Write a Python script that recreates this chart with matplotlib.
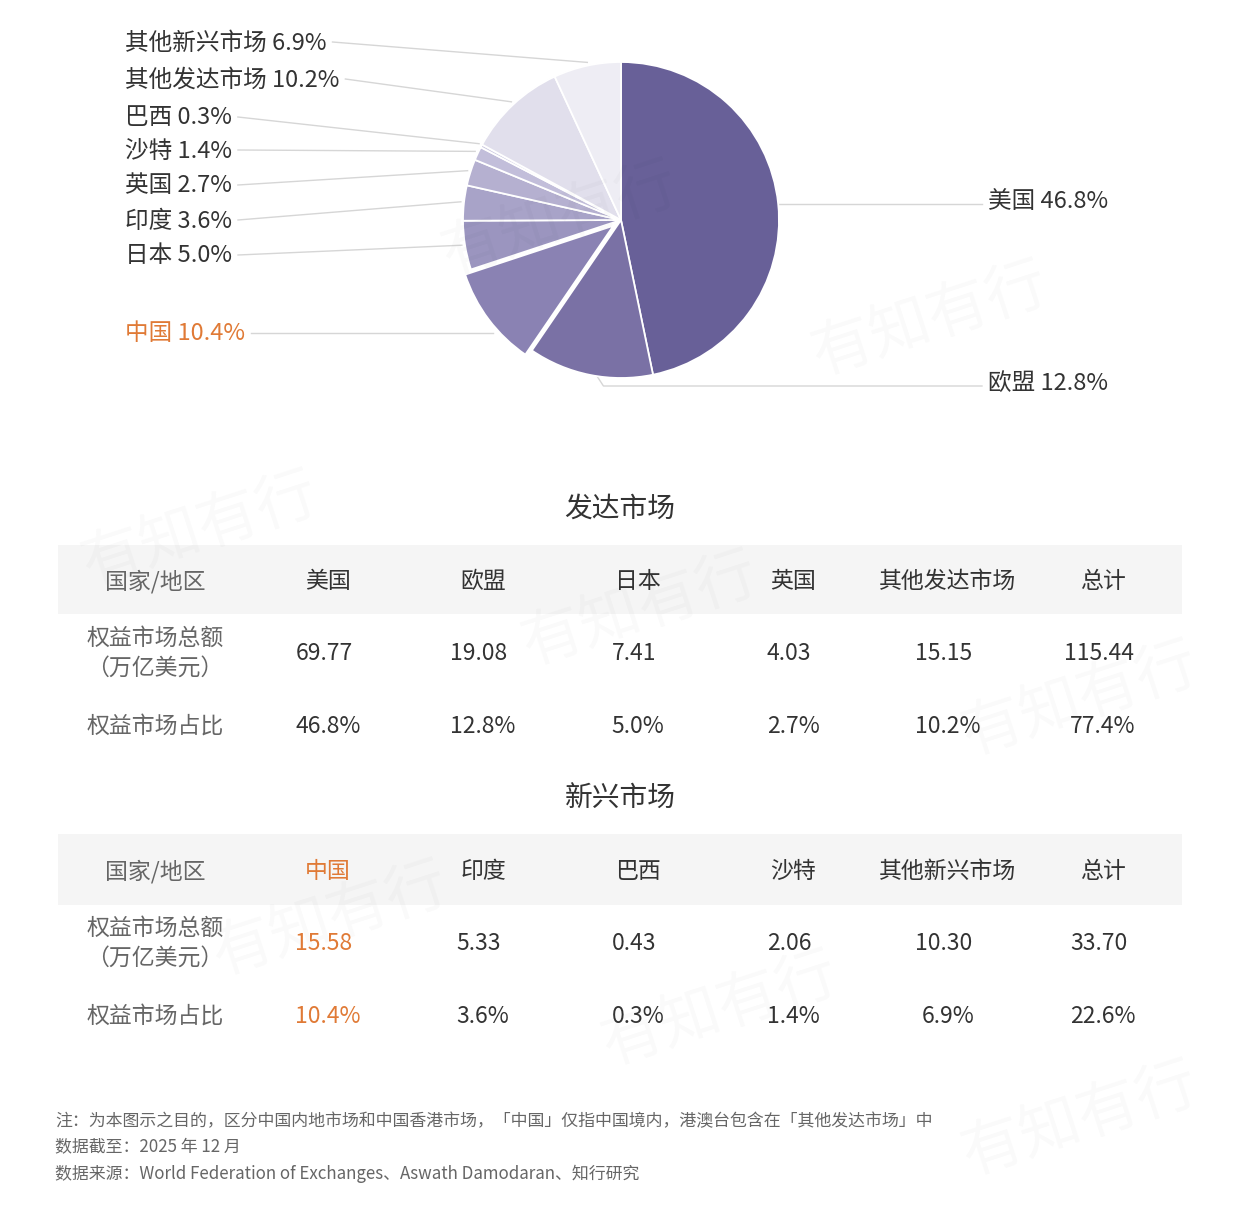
import numpy as np
import matplotlib.pyplot as plt
from matplotlib.patches import Rectangle

plt.rcParams['font.family'] = ['Noto Sans CJK SC', 'DejaVu Sans']

# --- Data ---
pie_labels = ['美国', '欧盟', '中国', '日本', '印度', '英国', '沙特', '巴西', '其他发达市场', '其他新兴市场']
pie_share = [46.8, 12.8, 10.4, 5.0, 3.6, 2.7, 1.4, 0.3, 10.2, 6.9]
pie_colors = ['#686098', '#7A71A5', '#8A82B3', '#9B95BF', '#A8A3C8',
              '#B5B0D0', '#C2BEDA', '#CCC9E0', '#E1DFEC', '#EEEDF4']

dev_names = ['美国', '欧盟', '日本', '英国', '其他发达市场', '总计']
dev_cap = [69.77, 19.08, 7.41, 4.03, 15.15, 115.44]
dev_share = [46.8, 12.8, 5.0, 2.7, 10.2, 77.4]

em_names = ['中国', '印度', '巴西', '沙特', '其他新兴市场', '总计']
em_cap = [15.58, 5.33, 0.43, 2.06, 10.30, 33.70]
em_share = [10.4, 3.6, 0.3, 1.4, 6.9, 22.6]

notes = ['注：为本图示之目的，区分中国内地市场和中国香港市场，「中国」仅指中国境内，港澳台包含在「其他发达市场」中',
         '数据截至：2025 年 12 月',
         '数据来源：World Federation of Exchanges、Aswath Damodaran、知行研究']

ORANGE = '#E07A36'
DARK = '#333333'
GREY = '#666666'
W, H = 1242, 1212


def Y(py):
    # pixel-from-top -> data y
    return H - py


fig = plt.figure(figsize=(W / 100, H / 100), dpi=100)
ax = fig.add_axes([0, 0, 1, 1])

# --- watermark ---
for wx, wy in [(560, 220), (930, 320), (200, 530), (640, 610), (1080, 700),
               (330, 920), (720, 1010), (1080, 1120)]:
    ax.text(wx, Y(wy), '有知有行', fontsize=44, color='#000000', alpha=0.025,
            rotation=18, ha='center', va='center')

# --- pie ---
cx, cy, r = 621, 220, 158
# explode is in data units here (1 unit = 1 px)
explode = [8 if l == '中国' else 0 for l in pie_labels]
wedges, _ = ax.pie(pie_share, colors=pie_colors, startangle=90, counterclock=False,
                   center=(cx, Y(cy)), radius=r, explode=explode,
                   wedgeprops=dict(edgecolor='white', linewidth=1.3))
wedges[2].set_linewidth(2)

label_pos = {
    '其他新兴市场': (125, 43), '其他发达市场': (125, 80), '巴西': (125, 118),
    '沙特': (125, 151), '英国': (125, 186), '印度': (125, 221),
    '日本': (125, 256), '中国': (125, 334),
    '美国': (1108, 202), '欧盟': (1108, 383),
}

ax.set_xlim(0, W)
ax.set_ylim(0, H)
ax.set_aspect('auto')
ax.axis('off')

texts = {}
for lab, val in zip(pie_labels, pie_share):
    tx, ty = label_pos[lab]
    right = lab in ('美国', '欧盟')
    texts[lab] = ax.text(tx, Y(ty), f'{lab} {val}%', fontsize=17,
                         color=ORANGE if lab == '中国' else DARK,
                         ha='right' if right else 'left', va='center')

fig.canvas.draw()
rend = fig.canvas.get_renderer()
inv = ax.transData.inverted()

cum = np.cumsum([0] + pie_share[:-1])
line_kw = dict(color='#D6D6D6', lw=1, zorder=0)
for i, (lab, val) in enumerate(zip(pie_labels, pie_share)):
    ang = np.deg2rad(90 - (cum[i] + val / 2) * 3.6)
    bb = texts[lab].get_window_extent(rend)
    (x0, _), (x1, _) = inv.transform([[bb.x0, bb.y0], [bb.x1, bb.y1]])
    ty = Y(label_pos[lab][1]) + 1
    if lab == '美国':
        px, py = cx + r * np.cos(ang), Y(cy) + r * np.sin(ang)
        ax.plot([px, x0 - 6], [py, py], **line_kw)
    elif lab == '欧盟':
        px, py = cx + r * np.cos(ang), Y(cy) + r * np.sin(ang)
        ax.plot([px + 8, px + 14, x0 - 6], [py - 2, Y(386), Y(386)], **line_kw)
    elif lab == '中国':
        dy = ty - Y(cy)
        px = cx - np.sqrt((r * 1.08) ** 2 - dy ** 2)
        ax.plot([x1 + 6, px], [ty, ty], **line_kw)
    else:
        px, py = cx + r * 1.02 * np.cos(ang), Y(cy) + r * 1.02 * np.sin(ang)
        ax.plot([x1 + 6, px], [ty, py], **line_kw)

# --- tables ---
col_x = [155, 328, 483, 638, 793, 948, 1103]


def draw_table(title, title_y, head_top, head_bot, names, caps, shares, hi=None):
    ax.text(620, Y(title_y), title, fontsize=20, color=DARK, ha='center', va='center')
    ax.add_patch(Rectangle((58, Y(head_bot)), 1182 - 58, head_bot - head_top,
                           facecolor='#F5F5F5', edgecolor='none', zorder=0))
    hy = (head_top + head_bot) / 2 + 2
    ry1, ry2 = hy + 72, hy + 145
    ax.text(col_x[0], Y(hy), '国家/地区', fontsize=16.5, color=GREY, ha='center', va='center')
    ax.text(col_x[0], Y(ry1), '权益市场总额\n（万亿美元）', fontsize=16.5, color=GREY,
            ha='center', va='center', linespacing=1.4)
    ax.text(col_x[0], Y(ry2), '权益市场占比', fontsize=16.5, color=GREY, ha='center', va='center')
    for j, (n, c, s) in enumerate(zip(names, caps, shares)):
        col = ORANGE if n == hi else DARK
        x = col_x[j + 1]
        ax.text(x, Y(hy), n, fontsize=16.5, color=col, ha='center', va='center')
        ax.text(x - 4, Y(ry1), f'{c:.2f}', fontsize=16.5, color=col, ha='center', va='center')
        ax.text(x, Y(ry2), f'{s:.1f}%', fontsize=16.5, color=col, ha='center', va='center')


draw_table('发达市场', 509, 545, 614, dev_names, dev_cap, dev_share)
draw_table('新兴市场', 799, 834, 905, em_names, em_cap, em_share, hi='中国')

# --- footnotes ---
for k, line in enumerate(notes):
    ax.text(55, Y(1121 + 26.5 * k), line, fontsize=12.2, color=GREY, ha='left', va='center')

fig.savefig('out.png', dpi=100, facecolor='white')
